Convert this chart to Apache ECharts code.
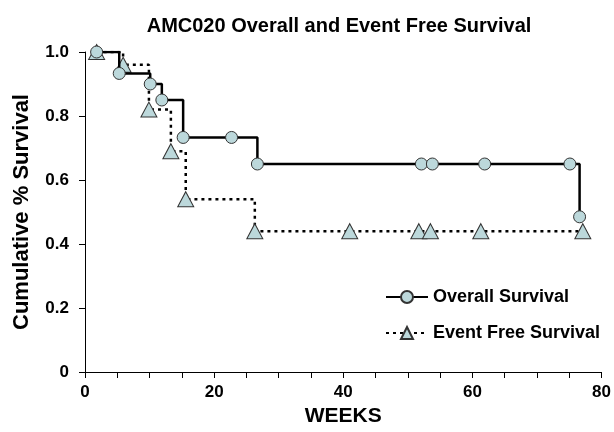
<!DOCTYPE html>
<html>
<head>
<meta charset="utf-8">
<script src="https://cdn.jsdelivr.net/npm/echarts@6/dist/echarts.min.js"></script>
<style>
html, body { margin: 0; padding: 0; background: #fff; }
#container { width: 614px; height: 432px; }
</style>
</head>
<body>
<div id="container"></div>
<script>
// weeks / survival
var osWeeks = [1.8, 5.3, 10.1, 11.9, 15.2, 22.7, 26.7, 52.1, 53.8, 61.9, 75.1, 76.6];
var osValues = [1.0, 0.933, 0.90, 0.85, 0.733, 0.733, 0.65, 0.65, 0.65, 0.65, 0.65, 0.485];
var efsWeeks = [1.8, 5.9, 9.9, 13.3, 15.6, 26.3, 41.0, 51.7, 53.5, 61.3, 77.1];
var efsValues = [1.0, 0.96, 0.82, 0.69, 0.54, 0.44, 0.44, 0.44, 0.44, 0.44, 0.44];
var xTicks = [0, 20, 40, 60, 80];
var yTicks = [0, 0.2, 0.4, 0.6, 0.8, 1.0];

function pairs(xs, ys) {
    var out = [];
    for (var i = 0; i < xs.length; i++) {
        out.push([xs[i], ys[i]]);
    }
    return out;
}

var dom = document.getElementById("container");
var myChart = echarts.init(dom);
var font = 'Liberation Sans, Arial, sans-serif';
var fill = '#bcd8db';

var option = {
    animation: false,
    textStyle: { fontFamily: font },
    title: {
        text: 'AMC020 Overall and Event Free Survival',
        left: 334,
        textAlign: 'center',
        top: 11,
        textStyle: { fontSize: 20, fontWeight: 'bold', color: '#000', fontFamily: font }
    },
    grid: { left: 85, right: 12, top: 52, bottom: 60 },
    legend: {
        orient: 'vertical',
        left: 380,
        top: 283,
        itemWidth: 42,
        itemHeight: 15,
        itemGap: 18,
        textStyle: { fontSize: 18, fontWeight: 'bold', color: '#000', fontFamily: font },
        data: ['Overall Survival', 'Event Free Survival']
    },
    xAxis: {
        type: 'value',
        min: xTicks[0],
        max: xTicks[xTicks.length - 1],
        interval: 20,
        name: 'WEEKS',
        nameLocation: 'middle',
        nameGap: 31,
        nameTextStyle: { fontSize: 21, fontWeight: 'bold', color: '#000' },
        axisLine: { lineStyle: { color: '#000', width: 1 } },
        axisTick: { show: true, length: 6, lineStyle: { color: '#000' } },
        minorTick: { show: true, splitNumber: 4, length: 6, lineStyle: { color: '#000' } },
        axisLabel: { fontSize: 17, fontWeight: 'bold', color: '#000', margin: 12 },
        splitLine: { show: false }
    },
    yAxis: {
        type: 'value',
        min: yTicks[0],
        max: yTicks[yTicks.length - 1],
        interval: 0.2,
        name: 'Cumulative % Survival',
        nameLocation: 'middle',
        nameGap: 52,
        nameTextStyle: { fontSize: 22, fontWeight: 'bold', color: '#000' },
        axisLine: { show: true, lineStyle: { color: '#000', width: 1 } },
        axisTick: { show: true, length: 6, lineStyle: { color: '#000' } },
        axisLabel: {
            fontSize: 17, fontWeight: 'bold', color: '#000', margin: 16,
            formatter: function (v) { return v === 0 ? '0' : v.toFixed(1); }
        },
        splitLine: { show: false }
    },
    series: [{
        name: 'Event Free Survival',
        type: 'line',
        step: 'end',
        data: pairs(efsWeeks, efsValues),
        symbol: 'triangle',
        symbolSize: [16, 15],
        lineStyle: { color: '#000', width: 2.5, type: [3, 4] },
        itemStyle: { color: fill, borderColor: '#333', borderWidth: 1 },
        z: 2
    }, {
        name: 'Overall Survival',
        type: 'line',
        step: 'end',
        data: pairs(osWeeks, osValues),
        symbol: 'circle',
        symbolSize: 12,
        lineStyle: { color: '#000', width: 2.5 },
        itemStyle: { color: fill, borderColor: '#333', borderWidth: 1 },
        z: 3
    }]
};

myChart.setOption(option);
</script>
</body>
</html>
